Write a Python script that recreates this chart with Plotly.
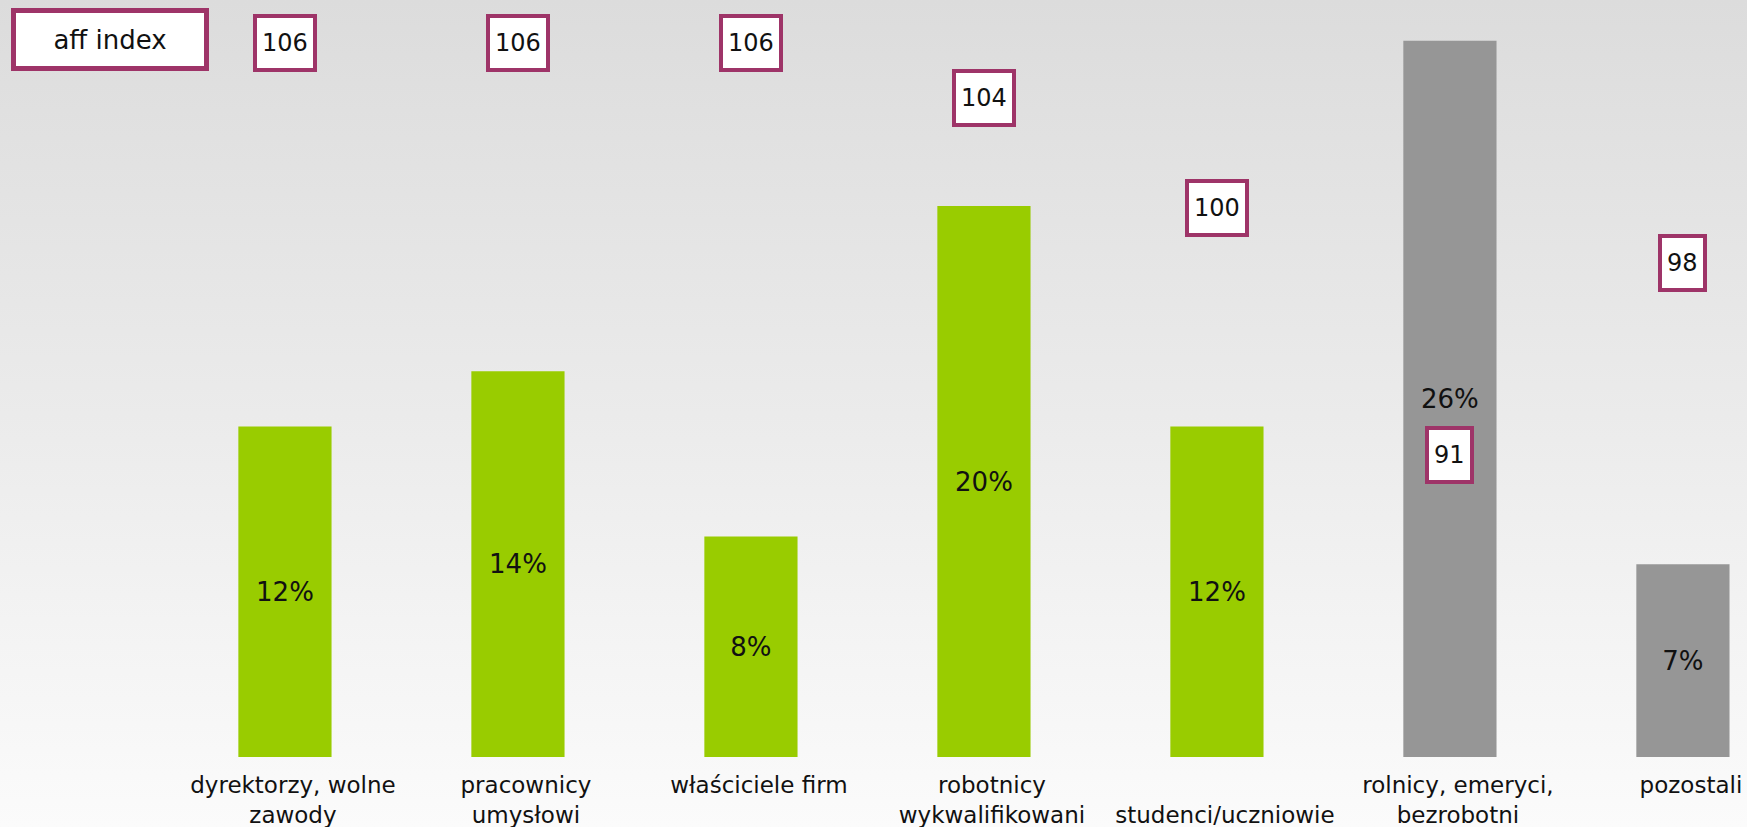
import urllib.parse
import plotly.graph_objects as go

# --- data -------------------------------------------------------------
categories = [
    "dyrektorzy, wolne<br>zawody",
    "pracownicy<br>umysłowi",
    "właściciele firm",
    "robotnicy<br>wykwalifikowani",
    " <br>studenci/uczniowie",
    "rolnicy, emeryci,<br>bezrobotni",
    "pozostali",
]
share_pct = [12, 14, 8, 20, 12, 26, 7]
aff_index = [106, 106, 106, 104, 100, 91, 98]
bar_colors = ["#99cc00", "#99cc00", "#99cc00", "#99cc00", "#99cc00", "#969696", "#969696"]

W, H = 1747, 827
MARGIN_B = 70
PLOT_H = H - MARGIN_B
BORDER = "#9e3468"
FONT = "DejaVu Sans"

fig = go.Figure()

fig.add_trace(go.Bar(
    x=categories,
    y=share_pct,
    marker=dict(color=bar_colors, line=dict(width=0)),
    width=0.4,
    text=[f"{v}%" for v in share_pct],
    textposition="inside",
    insidetextanchor="middle",
    textfont=dict(family=FONT, size=26, color="#111111"),
    hoverinfo="skip",
    showlegend=False,
))

# index values live on their own overlaid axis
fig.add_trace(go.Scatter(
    x=categories,
    y=aff_index,
    yaxis="y2",
    mode="markers",
    marker=dict(size=1, color="rgba(0,0,0,0)"),
    hoverinfo="skip",
    showlegend=False,
))

annotations = []
for cat, idx in zip(categories, aff_index):
    annotations.append(dict(
        x=cat, y=idx, xref="x", yref="y2",
        text=str(idx),
        showarrow=False,
        font=dict(family=FONT, size=24, color="#111111"),
        bgcolor="#ffffff",
        bordercolor=BORDER,
        borderwidth=4,
        borderpad=5,
        height=40,
    ))

annotations.append(dict(
    x=110 / W, y=1 - 40 / PLOT_H, xref="paper", yref="paper",
    text="aff index", showarrow=False,
    xanchor="center", yanchor="middle",
    font=dict(family=FONT, size=26, color="#111111"),
    bgcolor="#ffffff", bordercolor=BORDER, borderwidth=5, borderpad=0,
    width=188, height=53,
))

# soft vertical gradient behind the whole page
svg = (
    "<svg xmlns='http://www.w3.org/2000/svg' width='100' height='100' preserveAspectRatio='none'>"
    "<defs><linearGradient id='g' x1='0' y1='0' x2='0' y2='1'>"
    "<stop offset='0' stop-color='#dcdcdc'/>"
    "<stop offset='0.5' stop-color='#ebebeb'/>"
    "<stop offset='1' stop-color='#fbfbfb'/>"
    "</linearGradient></defs>"
    "<rect width='100' height='100' fill='url(#g)'/></svg>"
)
bg_uri = "data:image/svg+xml;charset=utf-8," + urllib.parse.quote(svg)

fig.update_layout(
    width=W, height=H,
    margin=dict(l=0, r=0, t=0, b=MARGIN_B),
    paper_bgcolor="#f5f5f5",
    plot_bgcolor="rgba(0,0,0,0)",
    images=[dict(
        source=bg_uri, xref="paper", yref="paper",
        x=0, y=1, sizex=1, sizey=H / PLOT_H,
        xanchor="left", yanchor="top", sizing="stretch", layer="below",
    )],
    xaxis=dict(
        type="category",
        range=[-1.223, 6.275],
        showgrid=False, zeroline=False, showline=False, ticks="",
        tickfont=dict(family=FONT, size=23, color="#111111"),
        ticklabelstandoff=12,
        ticklabelshift=8,
        fixedrange=True,
    ),
    yaxis=dict(
        range=[0, PLOT_H / 27.55],
        visible=False, showgrid=False, zeroline=False,
    ),
    yaxis2=dict(
        range=[80, 80 + PLOT_H / 27.47],
        overlaying="y", side="right",
        visible=False, showgrid=False, zeroline=False,
    ),
    annotations=annotations,
    bargap=0.6,
)

fig.write_html("out.html")
